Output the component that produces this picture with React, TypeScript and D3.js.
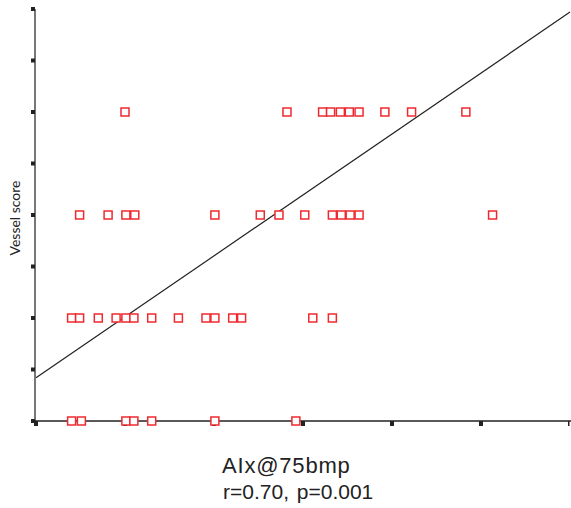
import React, { useEffect, useRef } from "react";
import * as d3 from "d3";

// vessel score rows and the AIx positions (axis units 0..6, no labels shown)
const scoreRows = [3, 2, 1, 0];
const aixRow3 = [1.0, 2.82, 3.22, 3.31, 3.42, 3.52, 3.63, 3.92, 4.22, 4.83];
const aixRow2 = [0.49, 0.81, 1.01, 1.11, 2.01, 2.52, 2.73, 3.02, 3.33, 3.43, 3.53, 3.63, 5.13];
const aixRow1 = [0.4, 0.49, 0.7, 0.9, 1.01, 1.1, 1.3, 1.6, 1.91, 2.01, 2.21, 2.31, 3.11, 3.33];
const aixRow0 = [0.4, 0.51, 1.01, 1.1, 1.3, 2.01, 2.92];
const fitLine = [[0, 0.42], [6, 3.97]];
const yTicks = [0, 0.5, 1, 1.5, 2, 2.5, 3, 3.5, 4];
const xTicks = [0, 1, 2, 3, 4, 5, 6];

export default function App() {
	const ref = useRef<SVGSVGElement>(null);

	useEffect(() => {
		const width = 571;
		const height = 508;
		const svg = d3.select(ref.current);
		svg.selectAll("*").remove();
		svg.attr("width", width).attr("height", height);

		const x = d3.scaleLinear().domain([0, 6]).range([36, 570]);
		const y = d3.scaleLinear().domain([0, 4]).range([421, 9]);

		// axes
		svg.append("line")
			.attr("x1", 35).attr("x2", 35)
			.attr("y1", y(4)).attr("y2", y(0))
			.attr("stroke", "#555").attr("stroke-width", 1.6);
		svg.append("line")
			.attr("x1", 35).attr("x2", 571)
			.attr("y1", y(0)).attr("y2", y(0))
			.attr("stroke", "#222").attr("stroke-width", 1.6);

		svg.selectAll(".ytick").data(yTicks).enter().append("rect")
			.attr("x", 31).attr("y", d => y(d) - 2)
			.attr("width", 4).attr("height", 4)
			.attr("fill", "#222");
		svg.selectAll(".xtick").data(xTicks).enter().append("rect")
			.attr("x", d => x(d) - 2).attr("y", y(0))
			.attr("width", d => d === 6 ? 1.5 : 4).attr("height", 5)
			.attr("fill", "#222");

		// regression line
		const line = d3.line<number[]>().x(d => x(d[0])).y(d => y(d[1]));
		svg.append("path").datum(fitLine)
			.attr("d", line)
			.attr("fill", "none").attr("stroke", "#222").attr("stroke-width", 1.2);

		// points
		const rows = [aixRow3, aixRow2, aixRow1, aixRow0];
		const pts: number[][] = [];
		rows.forEach((row, i) => row.forEach(v => pts.push([v, scoreRows[i]])));
		svg.selectAll(".pt").data(pts).enter().append("rect")
			.attr("x", d => x(d[0]) - 4).attr("y", d => y(d[1]) - 4)
			.attr("width", 8).attr("height", 8)
			.attr("fill", "white").attr("stroke", "#ee2a2f").attr("stroke-width", 1.5);

		// labels
		svg.append("text")
			.attr("transform", "translate(20,218) rotate(-90)")
			.attr("text-anchor", "middle")
			.attr("font-family", "Lato, 'Open Sans', sans-serif")
			.attr("font-size", 14).attr("fill", "#222")
			.text("Vessel score");
		svg.append("text")
			.attr("x", 222).attr("y", 473)
			.attr("font-family", "'Liberation Sans', Arial, sans-serif")
			.attr("font-size", 22).attr("letter-spacing", 0.8).attr("fill", "#222")
			.text("AIx@75bmp");
		svg.append("text")
			.attr("x", 223).attr("y", 499)
			.attr("font-family", "'Liberation Sans', Arial, sans-serif")
			.attr("font-size", 21).attr("word-spacing", 2).attr("fill", "#222")
			.text("r=0.70, p=0.001");
	}, []);

	return (
		<svg ref={ref} style={{ position: "absolute", left: 0, top: 0 }} />
	);
}
